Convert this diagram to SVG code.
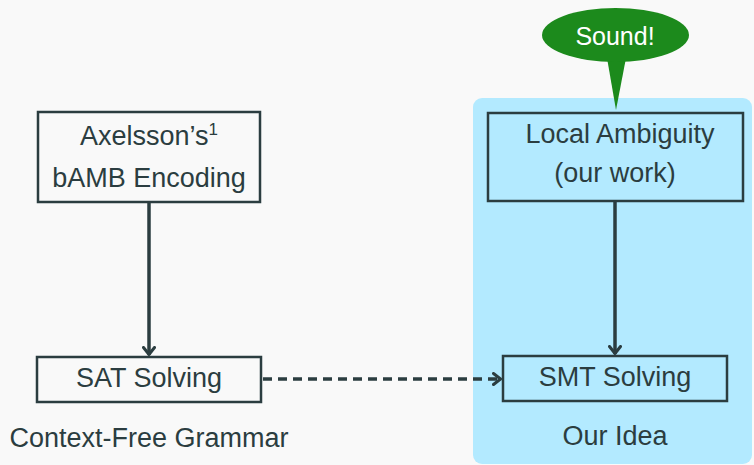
<svg xmlns="http://www.w3.org/2000/svg" width="754" height="465" viewBox="0 0 754 465">
<style>
text{font-family:"Liberation Sans",Arial,sans-serif;font-size:27px;fill:#2b3d40;text-anchor:middle}
.box{fill:none;stroke:#2b3d40;stroke-width:2.5}
.edge{fill:none;stroke:#2b3d40;stroke-width:3.5}
.dash{stroke-dasharray:9 6}
</style>
<defs>
<marker id="arr" viewBox="0 0 10 14" refX="9" refY="7" markerWidth="10" markerHeight="14" markerUnits="userSpaceOnUse" orient="auto">
<path d="M1.5,1.5 L8.5,7 L1.5,12.5" fill="none" stroke="#2b3d40" stroke-width="3" stroke-linecap="round" stroke-linejoin="round"/>
</marker>
</defs>
<rect width="754" height="465" fill="#f9f9f9"/>
<g id="region-our-idea">
<rect x="473" y="98" width="279" height="366" rx="9" fill="#b3eaff"/>
<text x="615" y="445">Our Idea</text>
</g>
<g id="label-cfg">
<text x="149" y="447">Context-Free Grammar</text>
</g>
<g id="connectors">
<path class="edge" d="M149,202 V355" marker-end="url(#arr)"/>
<path class="edge" d="M615,201 V354" marker-end="url(#arr)"/>
<path class="edge dash" d="M263,379 H501" marker-end="url(#arr)"/>
</g>
<g id="axelsson">
<rect class="box" x="38" y="112" width="222" height="90"/>
<text x="149" y="145">Axelsson’s<tspan font-size="17" dy="-10">1</tspan></text>
<text x="149" y="187">bAMB Encoding</text>
</g>
<g id="local-ambiguity">
<rect class="box" x="488" y="113" width="255" height="88"/>
<text x="620" y="143">Local Ambiguity</text>
<text x="615" y="182">(our work)</text>
</g>
<g id="sat">
<rect class="box" x="37" y="357" width="224" height="45"/>
<text x="149" y="387">SAT Solving</text>
</g>
<g id="smt">
<rect class="box" x="503" y="356" width="224" height="45"/>
<text x="615" y="386">SMT Solving</text>
</g>
<g id="sound">
<path d="M607,58 L616,110 L626,58 Z" fill="#1c8a1c"/>
<ellipse cx="615.5" cy="35" rx="73.5" ry="27" fill="#1c8a1c"/>
<text x="615" y="45" style="fill:#ffffff;font-size:25px">Sound!</text>
</g>
</svg>
